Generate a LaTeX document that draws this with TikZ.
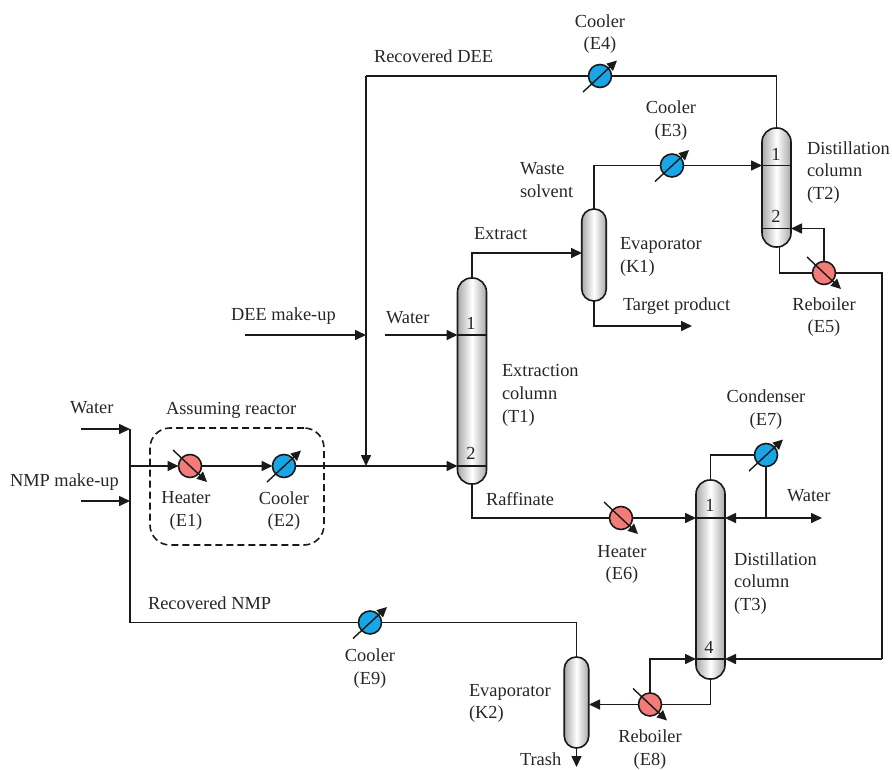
\documentclass[tikz,border=0pt]{standalone}
\usepackage{fontspec}
\setmainfont{Liberation Serif}
\usetikzlibrary{arrows.meta,calc}
\definecolor{hotc}{HTML}{F47C78}
\definecolor{coldc}{HTML}{18A6E6}
\definecolor{lc}{HTML}{1A1A1A}
\definecolor{colgray}{HTML}{A8A8A8}
\tikzset{
  flow/.style={line width=1.6pt,draw=lc},
  arr/.style={flow,-{Triangle[length=11pt,width=10pt]}},
  column/.style={draw=lc,line width=1.6pt,rounded corners=#1,left color=colgray,right color=colgray,middle color=white,inner sep=0pt,outer sep=0pt},
  tray/.style={line width=1.6pt,draw=lc},
  xchg/.style={circle,draw=lc,line width=1.6pt,minimum size=23pt,inner sep=0pt,outer sep=0pt},
  hotx/.style={xchg,fill=hotc},
  coldx/.style={xchg,fill=coldc},
  lab/.style={inner sep=0pt,outer sep=0pt,text=black!85,font=\fontsize{18.4}{22.8}\selectfont,align=left,anchor=west},
  labc/.style={lab,align=center,anchor=center},
  num/.style={inner sep=0pt,font=\fontsize{18.4}{20}\selectfont,text=black!85},
}
\newcommand{\coldarrow}[1]{\draw[arr,line width=1.4pt,-{Triangle[length=10pt,width=9.5pt]}] ($(#1)+(-17,16)$) -- ($(#1)+(17,-15.5)$);}
\newcommand{\hotarrow}[1]{\draw[arr,line width=1.4pt,-{Triangle[length=10pt,width=9.5pt]}] ($(#1)+(-17,-16)$) -- ($(#1)+(17,16)$);}
\begin{document}
\begin{tikzpicture}[x=1pt,y=-1pt]
\useasboundingbox (0,0) rectangle (892,769);
% columns
\node[column=14pt,minimum width=29pt,minimum height=119pt] (T2) at (776.5,187.5) {};
\node[column=12pt,minimum width=24.5pt,minimum height=92pt] (K1) at (594,255) {};
\node[column=14pt,minimum width=29pt,minimum height=206pt] (T1) at (472,381) {};
\node[column=14pt,minimum width=29pt,minimum height=199pt] (T3) at (710.5,579.5) {};
\node[column=12pt,minimum width=24.5pt,minimum height=91pt] (K2) at (576.5,702.5) {};
% trays
\coordinate (T2a) at (T2.west |- 0,165.5);
\coordinate (T2ar) at (T2.east |- 0,165.5);
\coordinate (T2b) at (T2.west |- 0,228.5);
\coordinate (T2br) at (T2.east |- 0,228.5);
\coordinate (T1a) at (T1.west |- 0,335);
\coordinate (T1ar) at (T1.east |- 0,335);
\coordinate (T1b) at (T1.west |- 0,466);
\coordinate (T1br) at (T1.east |- 0,466);
\coordinate (T3a) at (T3.west |- 0,518);
\coordinate (T3ar) at (T3.east |- 0,518);
\coordinate (T3b) at (T3.west |- 0,659);
\coordinate (T3br) at (T3.east |- 0,659);
\draw[tray] (T2a) -- (T2ar);
\draw[tray] (T2b) -- (T2br);
\draw[tray] (T1a) -- (T1ar);
\draw[tray] (T1b) -- (T1br);
\draw[tray] (T3a) -- (T3ar);
\draw[tray] (T3b) -- (T3br);
% exchangers
\node[hotx] (E1) at (190,466) {};
\node[coldx] (E2) at (284,466) {};
\node[coldx] (E3) at (672,165.5) {};
\node[coldx] (E4) at (600,76) {};
\node[hotx] (E5) at (824,273) {};
\node[hotx] (E6) at (621,518) {};
\node[coldx] (E7) at (766,455) {};
\node[hotx] (E8) at (650,704.5) {};
\node[coldx] (E9) at (370,622.5) {};
\hotarrow{E1}\coldarrow{E2}\coldarrow{E3}\coldarrow{E4}\hotarrow{E5}\hotarrow{E6}\coldarrow{E7}\hotarrow{E8}\coldarrow{E9}
% free ends and bends
\coordinate (w1) at (81,429);
\coordinate (nmp) at (81,501);
\coordinate (jt) at (130,429);
\coordinate (jn) at (130,501);
\coordinate (jm) at (130,466);
\coordinate (jb) at (130,622.5);
\coordinate (dee) at (245,335);
\coordinate (rd) at (366,76);
\coordinate (rj) at (366,335);
\coordinate (rm) at (366,466);
\coordinate (w2) at (385,335);
\coordinate (tp) at (692,326);
\coordinate (wo) at (822,518);
\coordinate (wj) at (766,518);
\coordinate (rr) at (882,273);
\coordinate (rb) at (882,659);
\coordinate (tr) at (576.5,767);
\coordinate (k1in) at (582,253);
\coordinate (k2in) at (589,704.5);
% connectors
\draw[arr] (w1) -- (jt);
\draw[arr] (nmp) -- (jn);
\draw[flow] (jt) -- (jb);
\draw[arr] (jm) -- (E1);
\draw[arr] (E1) -- (E2);
\draw[arr] (E2) -- (T1b);
\draw[flow] (E9) -- (jb);
\draw[flow] (K2.north) |- (E9);
\draw[arr] (K2.south) -- (tr);
\draw[flow] (E4) -| (T2.north);
\draw[flow] (E4) -- (rd);
\draw[arr] (rd) -- (rm);
\draw[arr] (dee) -- (rj);
\draw[arr] (w2) -- (T1a);
\draw[arr] (T1.north) |- (k1in);
\draw[flow] (T1.south) |- (E6);
\draw[arr] (E6) -- (T3a);
\draw[flow] (K1.north) |- (E3);
\draw[arr] (E3) -- (T2a);
\draw[arr] (K1.south) |- (tp);
\draw[flow] (T2.south -| E5.west) ++(-33,0) |- (E5);
\draw[arr] (E5.north) |- (T2br);
\draw[flow] (E5) -- (rr) -- (rb);
\draw[arr] (rb) -- (T3br);
\draw[flow] (T3.north) |- (E7);
\draw[flow] (E7) -- (wj);
\draw[arr] (wj) -- (wo);
\draw[arr] (wj) -- (T3ar);
\draw[flow] (T3.south) |- (E8);
\draw[arr] (E8.north) |- (T3b);
\draw[arr] (E8) -- (k2in);
% dashed box
\node[draw=lc,line width=1.6pt,dash pattern=on 7pt off 4pt,rounded corners=20pt,minimum width=174pt,minimum height=117pt,inner sep=0pt] (box) at (237,486.5) {};
% labels
\node[labc] (lE4) at (600,34) {Cooler\\(E4)};
\node[labc] (lE3) at (671,120.5) {Cooler\\(E3)};
\node[lab] (lT2) at (807,172.5) {Distillation\\column\\(T2)};
\node[lab] (lws) at (520,180) {Waste\\solvent};
\node[lab] (lex) at (474,233.5) {Extract};
\node[lab] (lK1) at (620,257) {Evaporator\\(K1)};
\node[lab] (ltp) at (623,306.5) {Target product};
\node[labc] (lE5) at (824,317) {Reboiler\\(E5)};
\node[lab] (ldee) at (231,316.5) {DEE make-up};
\node[lab] (lw2) at (386,317.5) {Water};
\node[lab] (lrd) at (374,56.5) {Recovered DEE};
\node[lab] (lT1) at (502,395.5) {Extraction\\column\\(T1)};
\node[labc] (lE7) at (766,409.5) {Condenser\\(E7)};
\node[lab] (lw3) at (787,495.5) {Water};
\node[lab] (lraf) at (486,499.5) {Raffinate};
\node[labc] (lE6) at (622,564.5) {Heater\\(E6)};
\node[lab] (lT3) at (734,583.5) {Distillation\\column\\(T3)};
\node[lab] (lw1) at (70,407.5) {Water};
\node[lab] (lar) at (166,410.5) {Assuming reactor};
\node[lab] (lnmp) at (10,482.5) {NMP make-up};
\node[labc] (lE1) at (186,511) {Heater\\(E1)};
\node[labc] (lE2) at (284,511) {Cooler\\(E2)};
\node[lab] (lrn) at (148,603.5) {Recovered NMP};
\node[labc] (lE9) at (370,668.5) {Cooler\\(E9)};
\node[lab] (lK2) at (469,703.5) {Evaporator\\(K2)};
\node[labc] (lE8) at (650,749.5) {Reboiler\\(E8)};
\node[lab] (ltr) at (520,759.5) {Trash};
\node[num] (n1) at (776,154) {1};
\node[num] (n2) at (776,216) {2};
\node[num] (n3) at (471,323.5) {1};
\node[num] (n4) at (471,453.5) {2};
\node[num] (n5) at (710,505) {1};
\node[num] (n6) at (709,647) {4};
\end{tikzpicture}
\end{document}
